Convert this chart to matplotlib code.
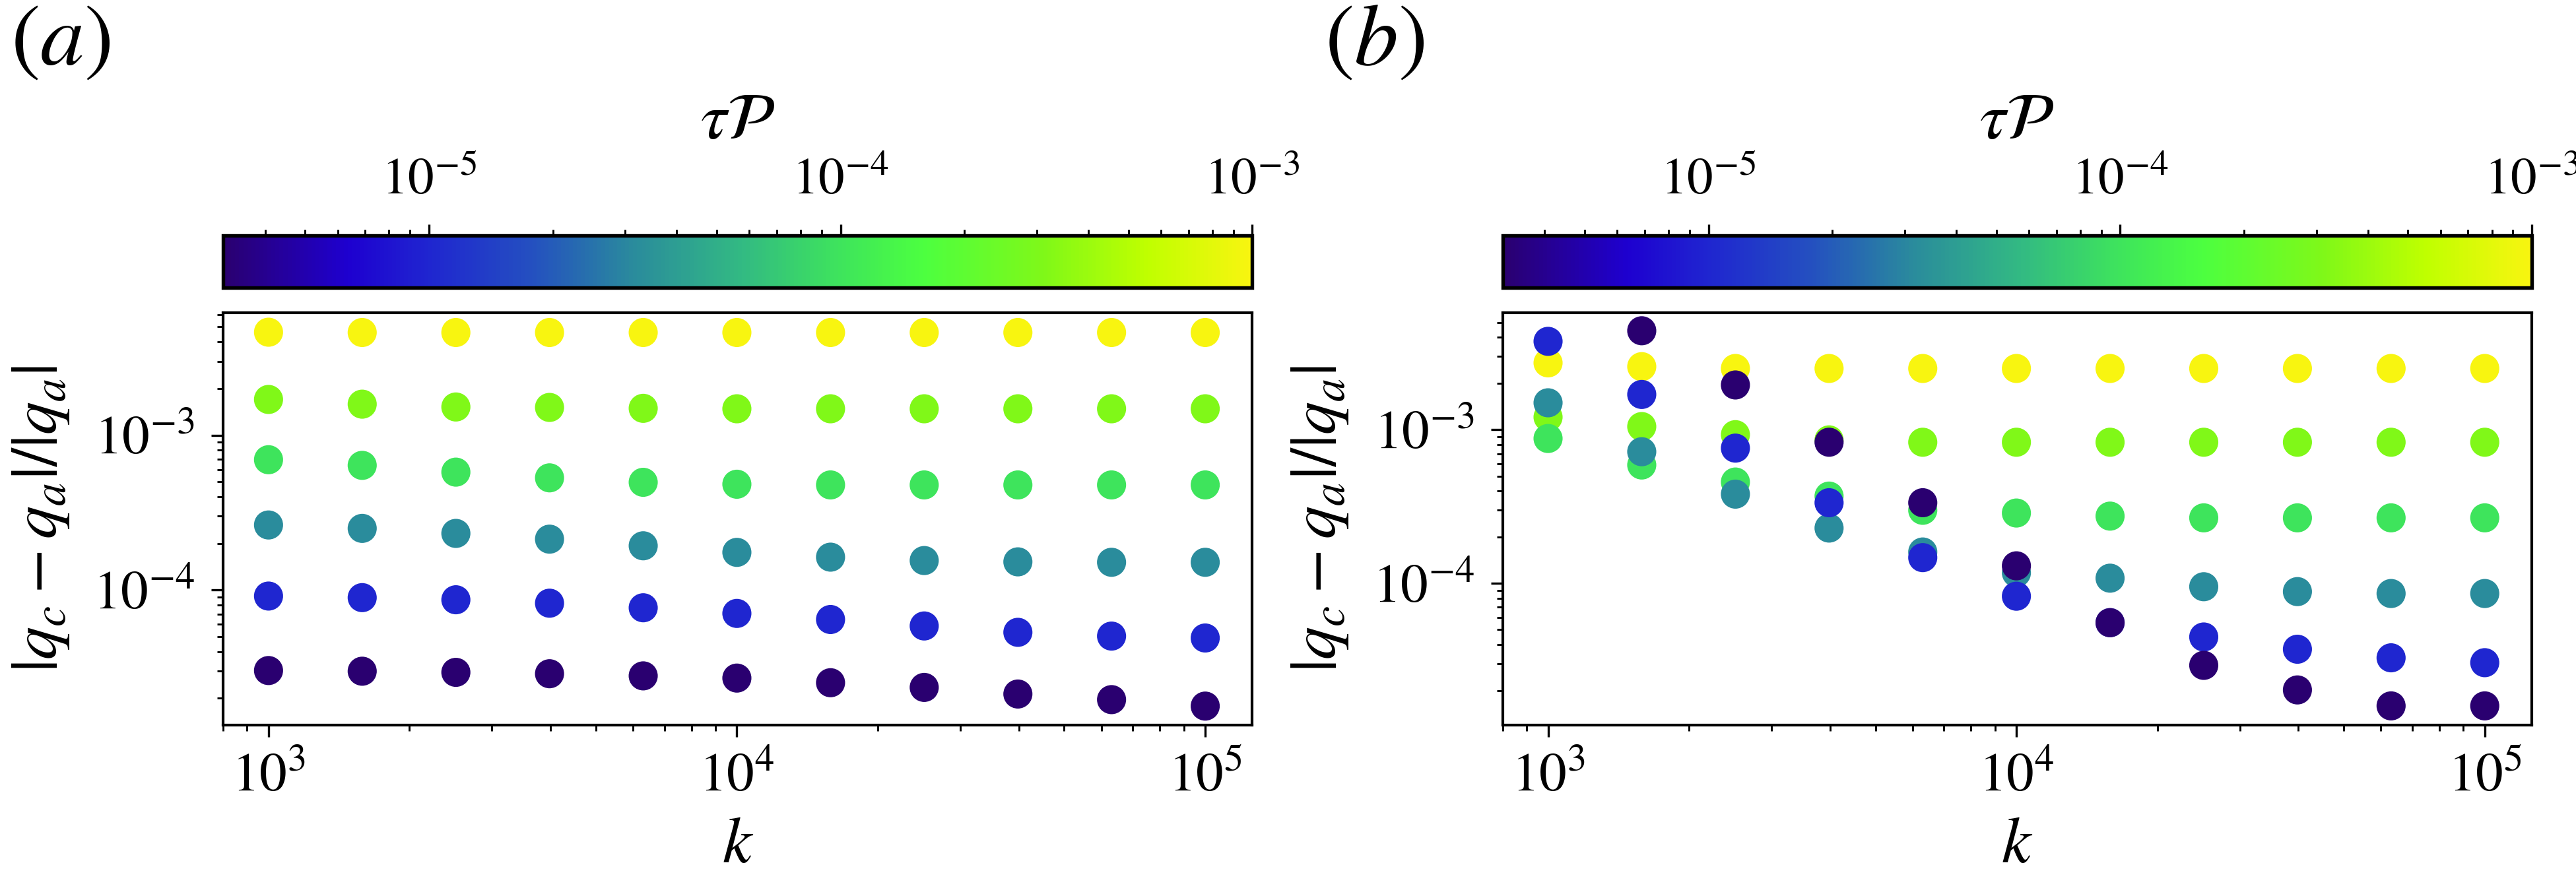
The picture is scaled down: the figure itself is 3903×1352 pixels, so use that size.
import numpy as np
import matplotlib.pyplot as plt
from matplotlib.colors import LinearSegmentedColormap, LogNorm

plt.rcParams['font.family'] = 'STIXGeneral'
plt.rcParams['mathtext.fontset'] = 'stix'
plt.rcParams['axes.linewidth'] = 1.0

k = [1000, 1585, 2512, 3981, 6310, 10000, 15849, 25119, 39811, 63096, 100000]
tau_p = [3.16e-6, 1e-5, 3.16e-5, 1e-4, 3.16e-4, 1e-3]

# panel (a), one list per tau_p value
a_t1 = [3.02e-5, 2.99e-5, 2.94e-5, 2.88e-5, 2.79e-5, 2.70e-5, 2.52e-5, 2.35e-5, 2.13e-5, 1.96e-5, 1.78e-5]
a_t2 = [9.14e-5, 8.93e-5, 8.65e-5, 8.22e-5, 7.68e-5, 7.06e-5, 6.45e-5, 5.86e-5, 5.33e-5, 5.04e-5, 4.90e-5]
a_t3 = [2.63e-4, 2.50e-4, 2.32e-4, 2.13e-4, 1.93e-4, 1.75e-4, 1.63e-4, 1.55e-4, 1.52e-4, 1.51e-4, 1.51e-4]
a_t4 = [6.94e-4, 6.38e-4, 5.77e-4, 5.30e-4, 4.96e-4, 4.82e-4, 4.77e-4, 4.77e-4, 4.77e-4, 4.77e-4, 4.77e-4]
a_t5 = [1.70e-3, 1.585e-3, 1.52e-3, 1.51e-3, 1.49e-3, 1.48e-3, 1.48e-3, 1.48e-3, 1.48e-3, 1.48e-3, 1.48e-3]
a_t6 = [4.62e-3, 4.60e-3, 4.60e-3, 4.60e-3, 4.60e-3, 4.60e-3, 4.60e-3, 4.60e-3, 4.60e-3, 4.60e-3, 4.60e-3]

# panel (b)
b_t1 = [np.nan, 4.42e-3, 1.96e-3, 8.3e-4, 3.35e-4, 1.30e-4, 5.54e-5, 2.92e-5, 2.02e-5, 1.59e-5, 1.59e-5]
b_t2 = [3.77e-3, 1.70e-3, 7.6e-4, 3.35e-4, 1.47e-4, 8.24e-5, 5.54e-5, 4.47e-5, 3.72e-5, 3.27e-5, 3.04e-5]
b_t3 = [1.50e-3, 7.2e-4, 3.81e-4, 2.29e-4, 1.60e-4, 1.17e-4, 1.08e-4, 9.5e-5, 8.83e-5, 8.58e-5, 8.58e-5]
b_t4 = [8.78e-4, 5.9e-4, 4.57e-4, 3.70e-4, 2.99e-4, 2.87e-4, 2.74e-4, 2.67e-4, 2.67e-4, 2.67e-4, 2.67e-4]
b_t5 = [1.21e-3, 1.05e-3, 9.3e-4, 8.6e-4, 8.3e-4, 8.3e-4, 8.3e-4, 8.3e-4, 8.3e-4, 8.3e-4, 8.3e-4]
b_t6 = [2.73e-3, 2.58e-3, 2.51e-3, 2.51e-3, 2.51e-3, 2.51e-3, 2.51e-3, 2.51e-3, 2.51e-3, 2.51e-3, 2.51e-3]

panels = [
    (r'$(a)$', [a_t1, a_t2, a_t3, a_t4, a_t5, a_t6], (1.34e-5, 6.18e-3)),
    (r'$(b)$', [b_t1, b_t2, b_t3, b_t4, b_t5, b_t6], (1.19e-5, 5.8e-3)),
]

cmap = LinearSegmentedColormap.from_list('tp', [
    (0.0, '#2a0070'), (0.12, '#1e00d0'), (0.2, '#1f26d0'), (0.3, '#2450c0'),
    (0.4, '#2a8c9c'), (0.5, '#32b884'), (0.6, '#3ee45c'), (0.68, '#4cff40'),
    (0.8, '#80f818'), (0.9, '#c0ff00'), (1.0, '#f8f510')])
norm = LogNorm(vmin=10**-5.5, vmax=1e-3)

fig = plt.figure(figsize=(13.013, 4.5067), dpi=300)

lefts = [0.0866, 0.5832]
label_x = [0.004, 0.514]

for (tag, rows, ylim), left, lx in zip(panels, lefts, label_x):
    ax = fig.add_axes([left, 0.187, 0.3994, 0.4625])
    cax = fig.add_axes([left, 0.6775, 0.3994, 0.0584])

    # largest tau first so the small ones sit on top
    for tp, err in reversed(list(zip(tau_p, rows))):
        sc = ax.scatter(k, err, c=[tp] * len(k), cmap=cmap, norm=norm,
                        s=112, linewidths=0, zorder=3)

    ax.set_xscale('log')
    ax.set_yscale('log')
    ax.set_xlim(800, 1.26e5)
    ax.set_ylim(*ylim)
    ax.tick_params(which='major', length=4.3, width=0.8, labelsize=20, pad=6)
    ax.tick_params(which='minor', length=2.2, width=0.7)
    ax.set_xlabel(r'$k$', fontsize=24, labelpad=5)
    ax.set_ylabel(r'$|q_c - q_a|/|q_a|$', fontsize=24, labelpad=8)

    cb = fig.colorbar(sc, cax=cax, orientation='horizontal')
    cax.xaxis.set_ticks_position('top')
    cax.xaxis.set_label_position('top')
    cax.tick_params(which='major', length=4.1, width=0.8, labelsize=19, pad=7)
    cax.tick_params(which='minor', length=2.1, width=0.7)
    cb.outline.set_linewidth(1.3)
    cb.set_label(r'$\tau\mathcal{P}$', fontsize=24, labelpad=7)

    fig.text(lx, 0.995, tag, fontsize=32, ha='left', va='top')

fig.savefig('out.png', dpi=300)
